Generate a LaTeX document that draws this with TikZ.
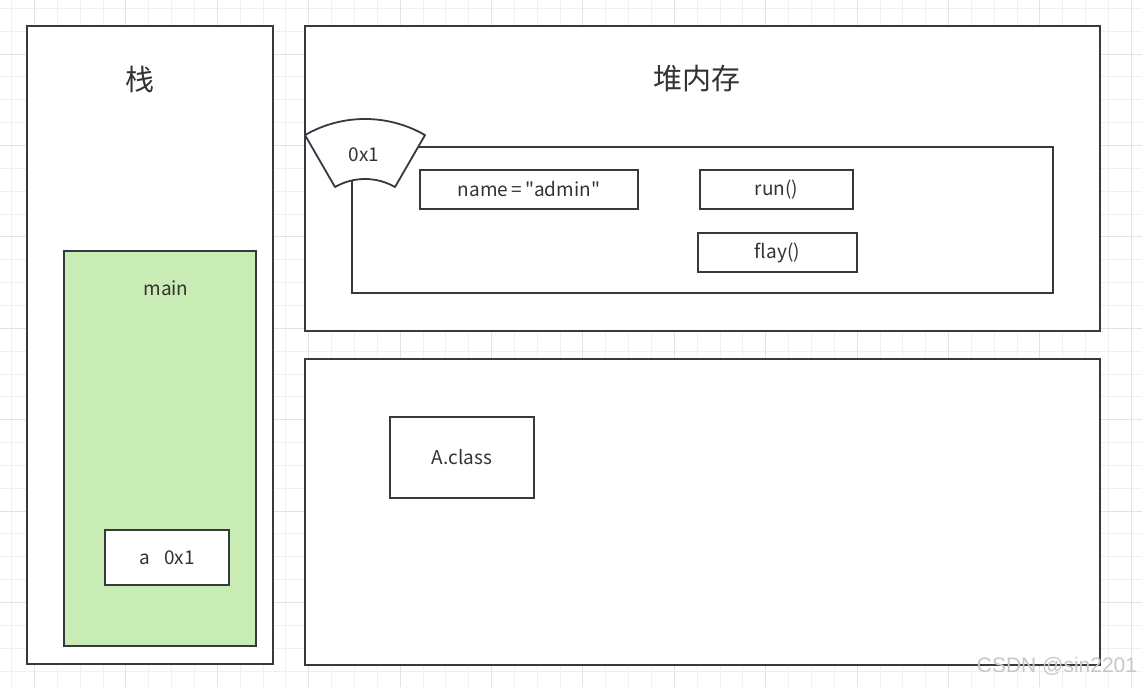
\documentclass[tikz,border=0pt]{standalone}
\usepackage{fontspec}
\setmainfont{Noto Sans CJK SC}
\newfontfamily\uifont{Noto Sans CJK SC}
\newfontfamily\markfont{Liberation Sans}
\definecolor{linegray}{HTML}{343A40}
\definecolor{textgray}{HTML}{333333}
\definecolor{maingreen}{HTML}{C9ECB4}
\definecolor{gridminor}{HTML}{F0F0F0}
\definecolor{gridmajor}{HTML}{E3E3E3}
\tikzset{
  box/.style={draw=linegray, line width=1.8, fill=white, inner sep=0pt},
  label19/.style={text=textgray, font=\uifont\fontsize{19}{21}\selectfont},
  title29/.style={text=textgray, font=\uifont\fontsize{29}{31}\selectfont}
}
\begin{document}
\begin{tikzpicture}[x=1pt,y=-1pt]
    \useasboundingbox (0,0) rectangle (1142,687);
    % grid
    \foreach \k in {0,...,49} {
      \draw[gridminor, line width=1] (11.7+22.85*\k,0) -- (11.7+22.85*\k,687);
    }
    \foreach \k in {0,...,29} {
      \draw[gridminor, line width=1] (0,8.4+22.85*\k) -- (1142,8.4+22.85*\k);
    }
    \foreach \k in {1,5,...,49} {
      \draw[gridmajor, line width=1] (11.7+22.85*\k,0) -- (11.7+22.85*\k,687);
    }
    \foreach \k in {2,6,...,29} {
      \draw[gridmajor, line width=1] (0,8.4+22.85*\k) -- (1142,8.4+22.85*\k);
    }
    % stack
    \node[box, minimum width=246, minimum height=638] (stack) at (150,345) {};
    \node[title29] (stacktitle) at (140,79) {栈};
    \node[box, fill=maingreen, minimum width=192, minimum height=395] (mainframe) at (160,448.5) {};
    \node[label19] (maintitle) at (166,288) {main};
    \node[box, label19, minimum width=124, minimum height=55] (avar) at (167,557.5) {a\hspace{0.75em}0x1};
    % heap
    \node[box, minimum width=795, minimum height=305] (heap) at (702.5,178.5) {};
    \node[title29] (heaptitle) at (697,79) {堆内存};
    \node[box, minimum width=701, minimum height=146] (obj) at (702.5,220) {};
    \draw[draw=linegray, line width=1.8, fill=white, line join=round, shift={(365,239)}]
      (240:120) arc[start angle=240, end angle=300, radius=120]
      -- (300:60) arc[start angle=300, end angle=240, radius=60] -- cycle;
    \node[label19] (objaddr) at (364,155) {0x1};
    \node[box, label19, minimum width=218, minimum height=39] (namefield) at (529,189.5) {name\,=\,"admin"};
    \node[box, label19, minimum width=153, minimum height=39] (runmethod) at (776.5,189.5) {run()};
    \node[box, label19, minimum width=159, minimum height=39] (flaymethod) at (777.5,252.5) {flay()};
    % method area
    \node[box, minimum width=795, minimum height=306] (methodarea) at (702.5,512) {};
    \node[box, label19, minimum width=144, minimum height=81] (aclass) at (462,457.5) {A.class};
    \node[text=black!22, font=\markfont\fontsize{21}{23}\selectfont] (watermark) at (1057,666) {CSDN @sin2201};
\end{tikzpicture}
\end{document}
